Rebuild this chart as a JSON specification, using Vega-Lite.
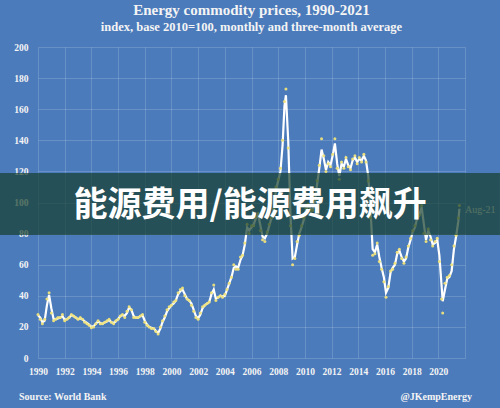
{
  "$schema": "https://vega.github.io/schema/vega-lite/v6.json",
  "width": 427,
  "height": 311,
  "autosize": {"type": "none"},
  "padding": {"left": 38, "top": 47, "right": 35, "bottom": 50},
  "background": "#4b7bbb",
  "title": {
    "text": "Energy commodity prices, 1990-2021",
    "subtitle": "index, base 2010=100, monthly and three-month average",
    "anchor": "middle",
    "font": "Liberation Serif",
    "fontSize": 15,
    "fontWeight": "bold",
    "color": "#f4f4f4",
    "subtitleFont": "Liberation Serif",
    "subtitleFontSize": 12.5,
    "subtitleFontWeight": "bold",
    "subtitleColor": "#f4f4f4",
    "subtitlePadding": 3,
    "offset": 9
  },
  "config": {
    "view": {"stroke": null},
    "axis": {
      "grid": true,
      "gridColor": "#ffffff",
      "gridOpacity": 0.16,
      "gridWidth": 1,
      "domain": false,
      "ticks": false,
      "labelFont": "Liberation Serif",
      "labelFontWeight": "bold",
      "labelFontSize": 9.5,
      "labelColor": "#f4f4f4",
      "title": null
    }
  },
  "datasets": {
    "series": [
      {"t": 1990.0, "a": 27.5, "m": 28},
      {"t": 1990.17, "a": 26, "m": 25},
      {"t": 1990.33, "a": 23, "m": 22},
      {"t": 1990.5, "a": 24, "m": 25},
      {"t": 1990.67, "a": 34, "m": 38},
      {"t": 1990.83, "a": 40.5, "m": 42},
      {"t": 1991.0, "a": 32, "m": 29},
      {"t": 1991.17, "a": 25, "m": 24},
      {"t": 1991.33, "a": 25, "m": 25},
      {"t": 1991.5, "a": 25.5, "m": 26},
      {"t": 1991.67, "a": 26, "m": 26},
      {"t": 1991.83, "a": 27, "m": 28},
      {"t": 1992.0, "a": 24.5, "m": 24},
      {"t": 1992.17, "a": 25, "m": 25},
      {"t": 1992.33, "a": 26, "m": 26},
      {"t": 1992.5, "a": 27.5, "m": 28},
      {"t": 1992.67, "a": 27, "m": 27},
      {"t": 1992.83, "a": 26, "m": 26},
      {"t": 1993.0, "a": 25, "m": 25},
      {"t": 1993.17, "a": 25.5, "m": 26},
      {"t": 1993.33, "a": 25, "m": 25},
      {"t": 1993.5, "a": 23.5, "m": 23},
      {"t": 1993.67, "a": 22.5, "m": 22},
      {"t": 1993.83, "a": 21.5, "m": 21},
      {"t": 1994.0, "a": 20, "m": 19.5},
      {"t": 1994.17, "a": 20.5, "m": 20},
      {"t": 1994.33, "a": 22, "m": 22},
      {"t": 1994.5, "a": 23.5, "m": 24},
      {"t": 1994.67, "a": 22.5, "m": 22},
      {"t": 1994.83, "a": 22, "m": 22},
      {"t": 1995.0, "a": 23, "m": 23},
      {"t": 1995.17, "a": 23.5, "m": 24},
      {"t": 1995.33, "a": 24.5, "m": 25},
      {"t": 1995.5, "a": 23, "m": 23},
      {"t": 1995.67, "a": 22.5, "m": 22},
      {"t": 1995.83, "a": 23.5, "m": 24},
      {"t": 1996.0, "a": 25, "m": 25},
      {"t": 1996.17, "a": 27, "m": 27},
      {"t": 1996.33, "a": 27.5, "m": 28},
      {"t": 1996.5, "a": 27, "m": 26},
      {"t": 1996.67, "a": 29, "m": 30},
      {"t": 1996.83, "a": 32.5, "m": 33},
      {"t": 1997.0, "a": 31, "m": 31},
      {"t": 1997.17, "a": 27, "m": 26},
      {"t": 1997.33, "a": 26, "m": 26},
      {"t": 1997.5, "a": 26, "m": 26},
      {"t": 1997.67, "a": 27, "m": 27},
      {"t": 1997.83, "a": 27.5, "m": 28},
      {"t": 1998.0, "a": 24, "m": 23},
      {"t": 1998.17, "a": 21.5, "m": 21},
      {"t": 1998.33, "a": 20, "m": 20},
      {"t": 1998.5, "a": 19.5, "m": 19},
      {"t": 1998.67, "a": 19, "m": 19},
      {"t": 1998.83, "a": 17.5, "m": 17},
      {"t": 1999.0, "a": 16, "m": 15.5},
      {"t": 1999.17, "a": 19, "m": 20},
      {"t": 1999.33, "a": 23, "m": 24},
      {"t": 1999.5, "a": 26, "m": 27},
      {"t": 1999.67, "a": 30, "m": 31},
      {"t": 1999.83, "a": 32, "m": 33},
      {"t": 2000.0, "a": 34, "m": 34},
      {"t": 2000.17, "a": 35, "m": 36},
      {"t": 2000.33, "a": 37, "m": 37},
      {"t": 2000.5, "a": 41, "m": 42},
      {"t": 2000.67, "a": 43, "m": 44},
      {"t": 2000.83, "a": 44, "m": 45},
      {"t": 2001.0, "a": 41, "m": 40},
      {"t": 2001.17, "a": 38, "m": 38},
      {"t": 2001.33, "a": 37, "m": 37},
      {"t": 2001.5, "a": 35, "m": 34},
      {"t": 2001.67, "a": 31, "m": 30},
      {"t": 2001.83, "a": 27, "m": 26},
      {"t": 2002.0, "a": 25.5, "m": 25},
      {"t": 2002.17, "a": 28, "m": 29},
      {"t": 2002.33, "a": 32, "m": 33},
      {"t": 2002.5, "a": 34, "m": 34},
      {"t": 2002.67, "a": 35, "m": 35},
      {"t": 2002.83, "a": 36, "m": 36},
      {"t": 2003.0, "a": 41, "m": 42},
      {"t": 2003.17, "a": 44, "m": 47},
      {"t": 2003.33, "a": 38, "m": 37},
      {"t": 2003.5, "a": 39, "m": 39},
      {"t": 2003.67, "a": 40, "m": 40},
      {"t": 2003.83, "a": 39.5, "m": 39},
      {"t": 2004.0, "a": 40, "m": 41},
      {"t": 2004.17, "a": 44, "m": 44},
      {"t": 2004.33, "a": 48, "m": 48},
      {"t": 2004.5, "a": 52, "m": 52},
      {"t": 2004.67, "a": 58, "m": 60},
      {"t": 2004.83, "a": 59, "m": 57},
      {"t": 2005.0, "a": 58, "m": 57},
      {"t": 2005.17, "a": 63, "m": 65},
      {"t": 2005.33, "a": 66, "m": 66},
      {"t": 2005.5, "a": 73, "m": 74},
      {"t": 2005.67, "a": 84, "m": 86},
      {"t": 2005.83, "a": 82, "m": 80},
      {"t": 2006.0, "a": 84, "m": 85},
      {"t": 2006.17, "a": 86, "m": 85},
      {"t": 2006.33, "a": 90, "m": 91},
      {"t": 2006.5, "a": 92, "m": 93},
      {"t": 2006.67, "a": 85, "m": 82},
      {"t": 2006.83, "a": 78, "m": 76},
      {"t": 2007.0, "a": 77, "m": 75},
      {"t": 2007.17, "a": 80, "m": 81},
      {"t": 2007.33, "a": 85, "m": 86},
      {"t": 2007.5, "a": 90, "m": 90},
      {"t": 2007.67, "a": 96, "m": 96},
      {"t": 2007.83, "a": 108, "m": 110},
      {"t": 2008.0, "a": 114, "m": 115},
      {"t": 2008.17, "a": 120, "m": 122},
      {"t": 2008.33, "a": 137, "m": 140},
      {"t": 2008.47, "a": 162, "m": 165},
      {"t": 2008.58, "a": 169, "m": 173},
      {"t": 2008.75, "a": 140, "m": 135},
      {"t": 2008.92, "a": 92, "m": 85},
      {"t": 2009.08, "a": 64, "m": 60},
      {"t": 2009.25, "a": 65, "m": 64},
      {"t": 2009.42, "a": 73, "m": 75},
      {"t": 2009.58, "a": 80, "m": 79},
      {"t": 2009.75, "a": 84, "m": 85},
      {"t": 2009.92, "a": 89, "m": 90},
      {"t": 2010.08, "a": 95, "m": 96},
      {"t": 2010.25, "a": 98, "m": 99},
      {"t": 2010.42, "a": 96, "m": 95},
      {"t": 2010.58, "a": 95, "m": 95},
      {"t": 2010.75, "a": 101, "m": 102},
      {"t": 2010.92, "a": 112, "m": 114},
      {"t": 2011.08, "a": 122, "m": 124},
      {"t": 2011.25, "a": 134, "m": 141},
      {"t": 2011.42, "a": 128, "m": 130},
      {"t": 2011.58, "a": 121, "m": 120},
      {"t": 2011.75, "a": 126, "m": 125},
      {"t": 2011.92, "a": 124, "m": 123},
      {"t": 2012.08, "a": 130, "m": 131},
      {"t": 2012.25, "a": 138, "m": 141},
      {"t": 2012.42, "a": 125, "m": 122},
      {"t": 2012.58, "a": 117, "m": 115},
      {"t": 2012.75, "a": 125, "m": 126},
      {"t": 2012.92, "a": 123, "m": 122},
      {"t": 2013.08, "a": 128, "m": 129},
      {"t": 2013.25, "a": 124, "m": 123},
      {"t": 2013.42, "a": 122, "m": 121},
      {"t": 2013.58, "a": 127, "m": 128},
      {"t": 2013.75, "a": 129, "m": 130},
      {"t": 2013.92, "a": 126, "m": 125},
      {"t": 2014.08, "a": 128, "m": 129},
      {"t": 2014.25, "a": 127, "m": 126},
      {"t": 2014.42, "a": 130, "m": 131},
      {"t": 2014.58, "a": 127, "m": 126},
      {"t": 2014.75, "a": 117, "m": 114},
      {"t": 2014.92, "a": 95, "m": 90},
      {"t": 2015.08, "a": 70, "m": 66},
      {"t": 2015.25, "a": 68, "m": 67},
      {"t": 2015.42, "a": 73, "m": 74},
      {"t": 2015.58, "a": 65, "m": 62},
      {"t": 2015.75, "a": 58, "m": 57},
      {"t": 2015.92, "a": 52, "m": 49},
      {"t": 2016.08, "a": 42, "m": 39},
      {"t": 2016.25, "a": 45, "m": 46},
      {"t": 2016.42, "a": 55, "m": 56},
      {"t": 2016.58, "a": 58, "m": 57},
      {"t": 2016.75, "a": 60, "m": 61},
      {"t": 2016.92, "a": 67, "m": 68},
      {"t": 2017.08, "a": 69, "m": 70},
      {"t": 2017.25, "a": 65, "m": 64},
      {"t": 2017.42, "a": 62, "m": 61},
      {"t": 2017.58, "a": 64, "m": 65},
      {"t": 2017.75, "a": 71, "m": 72},
      {"t": 2017.92, "a": 76, "m": 77},
      {"t": 2018.08, "a": 81, "m": 82},
      {"t": 2018.25, "a": 84, "m": 85},
      {"t": 2018.42, "a": 90, "m": 91},
      {"t": 2018.58, "a": 92, "m": 92},
      {"t": 2018.75, "a": 97, "m": 98},
      {"t": 2018.92, "a": 86, "m": 80},
      {"t": 2019.08, "a": 76, "m": 75},
      {"t": 2019.25, "a": 82, "m": 83},
      {"t": 2019.42, "a": 78, "m": 76},
      {"t": 2019.58, "a": 73, "m": 72},
      {"t": 2019.75, "a": 74, "m": 75},
      {"t": 2019.92, "a": 76, "m": 77},
      {"t": 2020.08, "a": 66, "m": 62},
      {"t": 2020.25, "a": 46, "m": 38},
      {"t": 2020.33, "a": 36.5, "m": 29},
      {"t": 2020.5, "a": 44, "m": 48},
      {"t": 2020.67, "a": 51, "m": 52},
      {"t": 2020.83, "a": 52, "m": 53},
      {"t": 2021.0, "a": 56, "m": 60},
      {"t": 2021.17, "a": 70, "m": 72},
      {"t": 2021.33, "a": 78, "m": 79},
      {"t": 2021.5, "a": 88, "m": 90},
      {"t": 2021.58, "a": 96, "m": 98}
    ],
    "endlabel": [{"x": 2022.0, "y": 95.2, "label": "Aug-21"}],
    "footleft": [{"x": 1988.58, "y": -25.1, "label": "Source: World Bank"}],
    "footright": [{"x": 2022.52, "y": -25.1, "label": "@JKempEnergy"}],
    "band": [{"x": 1987.15, "x2": 2024.62, "y": 79.1, "y2": 119}],
    "banner": [{"x": 2005.9, "y": 97.5, "label": "能源费用/能源费用飙升"}]
  },
  "layer": [
    {
      "data": {"name": "series"},
      "mark": {"type": "line", "color": "#ffffff", "strokeWidth": 2.2},
      "encoding": {
        "x": {
          "field": "t", "type": "quantitative",
          "scale": {"domain": [1990, 2022], "nice": false, "zero": false},
          "axis": {
            "values": [1990, 1992, 1994, 1996, 1998, 2000, 2002, 2004, 2006, 2008, 2010, 2012, 2014, 2016, 2018, 2020, 2022],
            "tickCount": 40,
            "format": "d",
            "labelExpr": "datum.value == 2022 ? '' : datum.label",
            "labelPadding": 8,
            "labelOverlap": false,
            "labelBound": false,
            "labelFlush": false
          }
        },
        "y": {
          "field": "a", "type": "quantitative",
          "scale": {"domain": [0, 200], "nice": false},
          "axis": {
            "values": [0, 20, 40, 60, 80, 100, 120, 140, 160, 180, 200],
            "tickCount": 40,
            "format": "d",
            "labelPadding": 10,
            "labelOverlap": false,
            "labelBound": false,
            "labelFlush": false
          }
        }
      }
    },
    {
      "data": {"name": "series"},
      "mark": {"type": "point", "filled": true, "color": "#eee27a", "size": 9, "opacity": 0.95},
      "encoding": {
        "x": {"field": "t", "type": "quantitative"},
        "y": {"field": "m", "type": "quantitative"}
      }
    },
    {
      "data": {"name": "endlabel"},
      "mark": {"type": "text", "font": "Liberation Serif", "fontSize": 10, "color": "#e8e8e8", "align": "left", "baseline": "middle"},
      "encoding": {
        "x": {"field": "x", "type": "quantitative"},
        "y": {"field": "y", "type": "quantitative"},
        "text": {"field": "label"}
      }
    },
    {
      "data": {"name": "footleft"},
      "mark": {"type": "text", "font": "Liberation Serif", "fontSize": 10, "fontWeight": "bold", "color": "#f4f4f4", "baseline": "middle", "align": "left"},
      "encoding": {
        "x": {"field": "x", "type": "quantitative"},
        "y": {"field": "y", "type": "quantitative"},
        "text": {"field": "label"}
      }
    },
    {
      "data": {"name": "footright"},
      "mark": {"type": "text", "font": "Liberation Serif", "fontSize": 10, "fontWeight": "bold", "color": "#f4f4f4", "baseline": "middle", "align": "right"},
      "encoding": {
        "x": {"field": "x", "type": "quantitative"},
        "y": {"field": "y", "type": "quantitative"},
        "text": {"field": "label"}
      }
    },
    {
      "data": {"name": "band"},
      "mark": {"type": "rect", "color": "#153f2c", "opacity": 0.7},
      "encoding": {
        "x": {"field": "x", "type": "quantitative"},
        "x2": {"field": "x2"},
        "y": {"field": "y", "type": "quantitative"},
        "y2": {"field": "y2"}
      }
    },
    {
      "data": {"name": "banner"},
      "mark": {"type": "text", "font": "Noto Sans CJK SC", "fontSize": 34, "fontWeight": "bold", "color": "#ffffff", "align": "center", "baseline": "middle"},
      "encoding": {
        "x": {"field": "x", "type": "quantitative"},
        "y": {"field": "y", "type": "quantitative"},
        "text": {"field": "label"}
      }
    }
  ]
}
